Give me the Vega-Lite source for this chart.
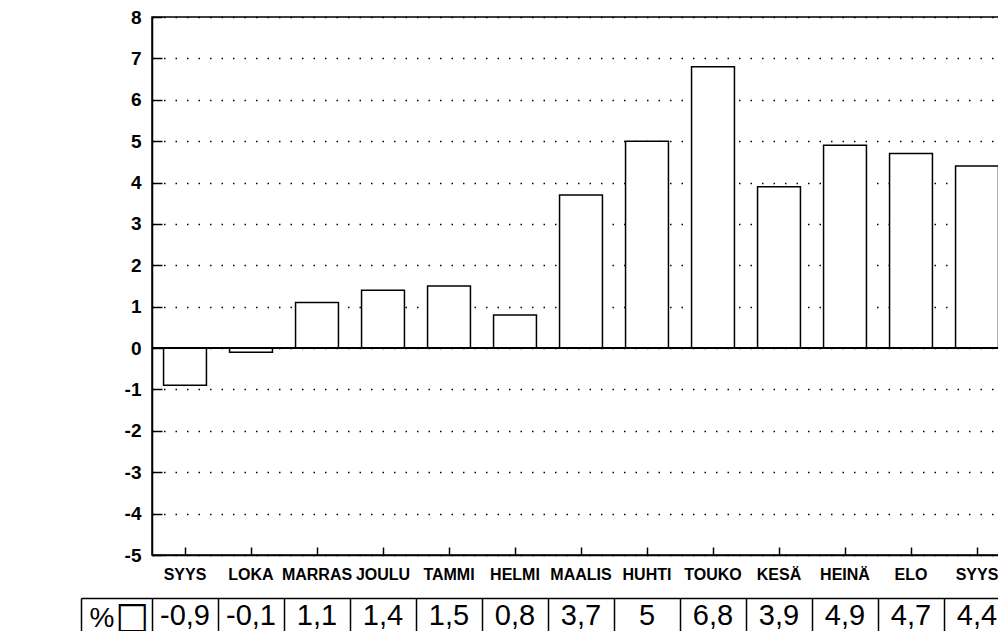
{
  "$schema": "https://vega.github.io/schema/vega-lite/v6.json",
  "padding": {"left": 80, "top": 7, "right": 0, "bottom": 0},
  "background": "white",
  "config": {
    "font": "Liberation Sans",
    "locale": {"number": {"decimal": ",", "thousands": " ", "grouping": [3], "currency": ["", " €"], "minus": "-"}},
    "axis": {"labelFont": "Liberation Sans", "labelColor": "black", "domainColor": "black", "tickColor": "black", "domainWidth": 1.5, "tickWidth": 1.5, "title": null}
  },
  "data": {"values": [
    {"kk": "SYYS 1", "muutos": -0.9},
    {"kk": "LOKA 1", "muutos": -0.1},
    {"kk": "MARRAS 1", "muutos": 1.1},
    {"kk": "JOULU 1", "muutos": 1.4},
    {"kk": "TAMMI 2", "muutos": 1.5},
    {"kk": "HELMI 2", "muutos": 0.8},
    {"kk": "MAALIS 2", "muutos": 3.7},
    {"kk": "HUHTI 2", "muutos": 5},
    {"kk": "TOUKO 2", "muutos": 6.8},
    {"kk": "KESÄ 2", "muutos": 3.9},
    {"kk": "HEINÄ 2", "muutos": 4.9},
    {"kk": "ELO 2", "muutos": 4.7},
    {"kk": "SYYS 2", "muutos": 4.4}
  ]},
  "spacing": 1,
  "vconcat": [
    {
      "width": 858,
      "height": 538,
      "view": {"stroke": "black", "strokeWidth": 1.5},
      "layer": [
        {
          "mark": {"type": "bar", "fill": "white", "stroke": "black", "strokeWidth": 1.5},
          "encoding": {
            "x": {"field": "kk", "type": "nominal", "sort": null,
              "scale": {"paddingInner": 0.35},
              "axis": {"labelExpr": "split(datum.label, ' ')[0]", "labelAngle": 0, "labelFontSize": 16, "labelFontWeight": "bold", "labelOverlap": false, "tickSize": -8, "labelPadding": 19, "labelBaseline": "top"}},
            "y": {"field": "muutos", "type": "quantitative",
              "scale": {"domain": [-5, 8], "nice": false},
              "axis": {"values": [-5, -4, -3, -2, -1, 0, 1, 2, 3, 4, 5, 6, 7, 8], "format": "d", "labelFontSize": 19, "labelFontWeight": "bold", "tickSize": -10, "labelPadding": 21, "grid": true, "gridColor": "black", "gridWidth": 1.5, "gridDash": [1.5, 10]}}
          }
        },
        {
          "mark": {"type": "rule", "color": "black", "strokeWidth": 1.5},
          "encoding": {"y": {"datum": 0}}
        }
      ]
    },
    {
      "width": 858,
      "height": 40,
      "view": {"stroke": null},
      "mark": {"type": "text", "fontSize": 29, "font": "Liberation Sans", "color": "black", "baseline": "middle", "dy": -2},
      "encoding": {
        "x": {"field": "kk", "type": "nominal", "sort": null,
          "scale": {"paddingInner": 0, "paddingOuter": 0},
          "axis": {"orient": "top", "labels": false, "tickBand": "extent", "tickSize": -40, "grid": false}},
        "y": {"datum": "%", "type": "nominal",
          "axis": {"offset": 71, "tickBand": "extent", "tickSize": -71, "labelFontSize": 28, "labelAlign": "left", "labelBaseline": "middle", "labelPadding": 63,
            "title": "☐", "titleFont": "DejaVu Sans", "titleFontSize": 38, "titleFontWeight": "normal", "titleColor": "black", "titleAngle": 0, "titleX": 51, "titleY": 22, "titleAlign": "center", "titleBaseline": "middle"}},
        "text": {"field": "muutos", "type": "quantitative", "format": ".1~f"}
      }
    }
  ]
}
